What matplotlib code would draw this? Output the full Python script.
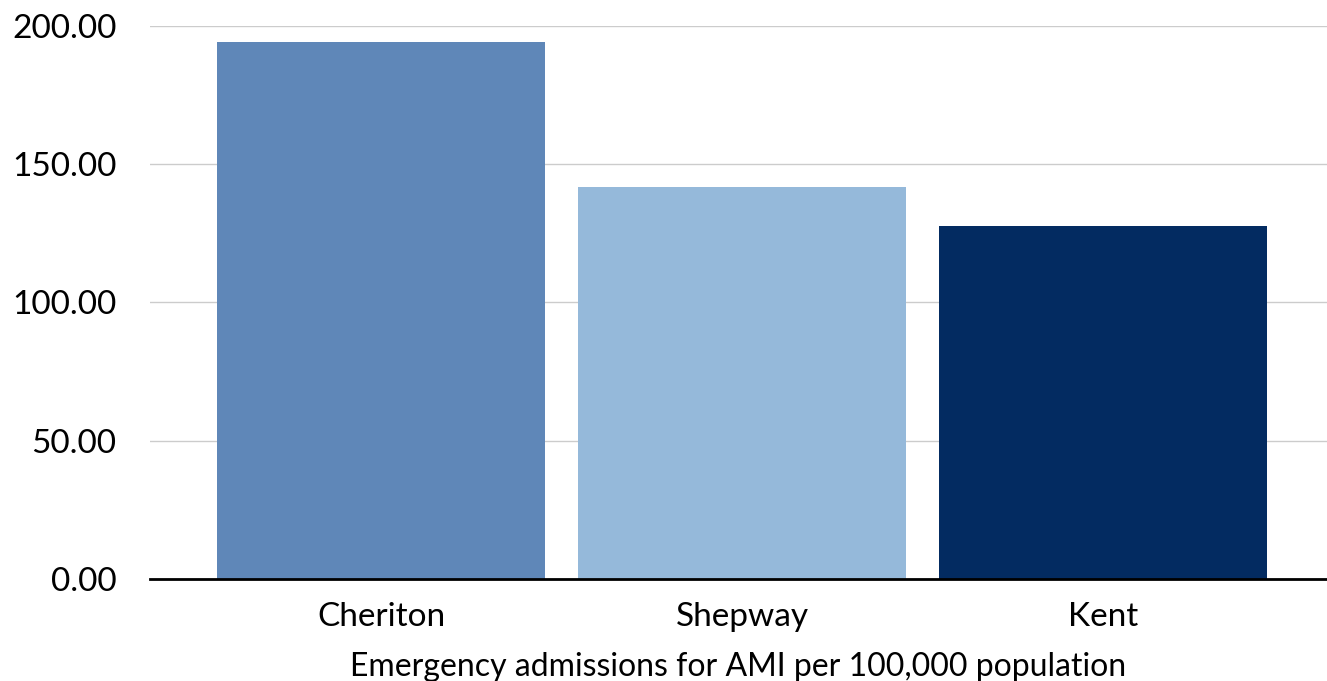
import matplotlib.pyplot as plt

# Data
areas = ["Cheriton", "Shepway", "Kent"]
rates = [194.2, 141.8, 127.7]
colors = ["#5F87B8", "#95B9DA", "#032B61"]
yticks = [0, 50, 100, 150, 200]

plt.rcParams['font.family'] = ['Lato', 'DejaVu Sans']

fig = plt.figure(figsize=(13.27, 6.81), dpi=100)
ax = fig.add_axes([0.113, 0.150, 0.887, 0.812])

ax.bar(range(len(areas)), rates, width=0.91, color=colors, zorder=2)

ax.set_xlim(-0.64, 2.62)
ax.set_ylim(0, 200)
ax.set_yticks(yticks)
ax.set_yticklabels([f"{v:.2f}" for v in yticks], fontsize=24)
ax.set_xticks(range(len(areas)))
ax.set_xticklabels(areas, fontsize=24)
ax.set_xlabel("Emergency admissions for AMI per 100,000 population", fontsize=23, labelpad=14)

ax.grid(axis="y", color="#CCCCCC", linewidth=1, zorder=0)
for s in ["top", "right", "left"]:
    ax.spines[s].set_visible(False)
ax.spines["bottom"].set_linewidth(2)
ax.spines["bottom"].set_zorder(3)
ax.tick_params(axis="y", length=0, pad=24)
ax.tick_params(axis="x", length=0, pad=17)

plt.savefig("out.png", dpi=100)
